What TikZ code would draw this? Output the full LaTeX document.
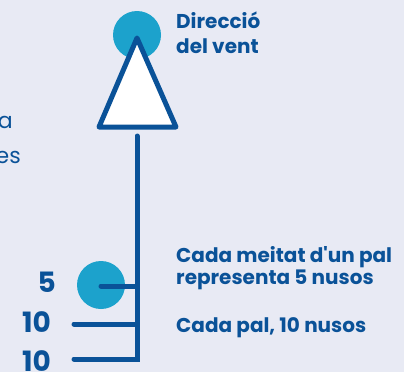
\documentclass[tikz,border=0pt]{standalone}
\usepackage{fontspec}
\setmainfont{Poppins}[Ligatures=TeXOff]
\definecolor{bgc}{HTML}{E8EAF4}
\definecolor{dblue}{HTML}{0A5298}
\definecolor{lblue}{HTML}{1CA2CC}
\begin{document}
\begin{tikzpicture}[x=1pt,y=-1pt,
  barb/.style={draw=dblue,line width=5pt,line cap=round},
  dot/.style={circle,fill=lblue,inner sep=0pt,minimum size=48pt},
  num/.style={text=dblue,font=\fontsize{28}{28}\selectfont\bfseries,inner sep=0pt,anchor=base east},
  lbl/.style={text=dblue,font=\fontsize{20}{24}\selectfont\bfseries,inner sep=0pt,anchor=base west},
  side/.style={text=dblue,font=\fontsize{22}{22}\selectfont,inner sep=0pt,anchor=base east}]
\fill[bgc] (0,0) rectangle (404,372);
\useasboundingbox (0,0) rectangle (404,372);
\clip (0,0) rectangle (404,372);
% top circle and triangle
\node[dot] (topdot) at (137,35) {};
\coordinate (apex) at (137,38);
\coordinate (bl) at (99,127);
\coordinate (br) at (176,127);
\draw[draw=dblue,fill=white,line width=5pt,line join=round] (apex) -- (br) -- (bl) -- cycle;
% staff
\node[dot] (halfdot) at (101,285) {};
\coordinate (stemtop) at (137,136);
\coordinate (stembot) at (137,359);
\coordinate (b1) at (137,286);
\coordinate (b1e) at (101,286);
\coordinate (b2) at (137,324);
\coordinate (b2e) at (74,324);
\coordinate (b3e) at (74,359);
\draw[barb,line join=miter] (stemtop) -- (stembot) -- (b3e);
\draw[barb] (b1) -- (b1e);
\draw[barb] (b2) -- (b2e);
% numbers
\node[num] (n5) at (56,292) {5};
\node[num] (n10a) at (51,332) {10};
\node[num] (n10b) at (51,371) {10};
% labels
\node[lbl] (dir1) at (176,28) {Direcció};
\node[lbl] (dir2) at (176,53) {del vent};
\node[lbl] (half1) at (176,262) {Cada meitat d'un pal};
\node[lbl] (half2) at (176,284) {representa 5 nusos};
\node[lbl] (full) at (176,332) {Cada pal, 10 nusos};
% clipped side text
\node[side] (sa) at (13,128) {a};
\node[side] (ses) at (21,163) {es};
\end{tikzpicture}
\end{document}
